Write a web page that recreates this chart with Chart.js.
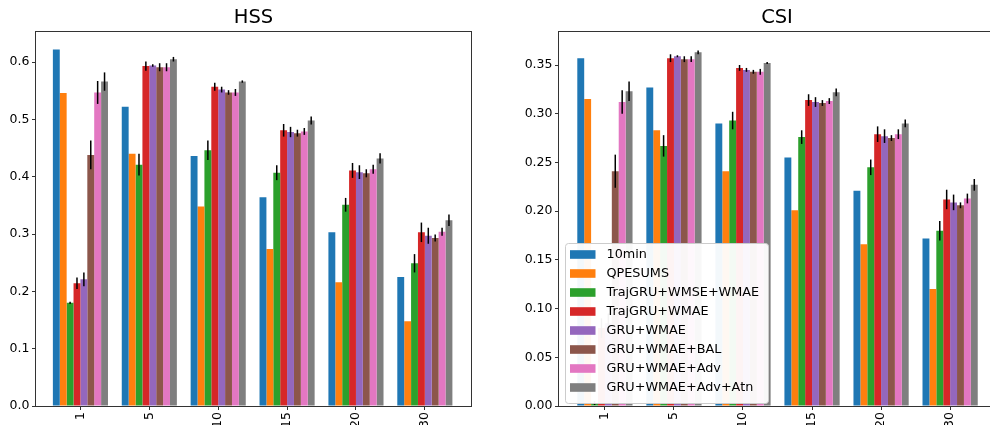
<!DOCTYPE html>
<html><head><meta charset="utf-8">
<script src="https://cdn.jsdelivr.net/npm/chart.js@4.4.0/dist/chart.umd.min.js"></script>
<style>
html,body{margin:0;padding:0;background:#fff;overflow:hidden;width:990px;height:425px;position:relative}
#wrapL{position:absolute;left:0;top:0;width:507px;height:425px}
#wrapR{position:absolute;left:480px;top:0;width:594px;height:425px}
canvas{display:block}
</style></head><body>
<div id="wrapL"><canvas id="hss" width="507" height="425"></canvas></div>
<div id="wrapR"><canvas id="csi" width="594" height="425"></canvas></div>
<script>
// ---- data ----
const categories = ['1', '5', '10', '15', '20', '30'];
const seriesNames = ['10min', 'QPESUMS', 'TrajGRU+WMSE+WMAE', 'TrajGRU+WMAE', 'GRU+WMAE', 'GRU+WMAE+BAL', 'GRU+WMAE+Adv', 'GRU+WMAE+Adv+Atn'];
const seriesColors = ['#1f77b4', '#ff7f0e', '#2ca02c', '#d62728', '#9467bd', '#8c564b', '#e377c2', '#7f7f7f'];

const hssTicks = [0.0, 0.1, 0.2, 0.3, 0.4, 0.5, 0.6];
const csiTicks = [0.00, 0.05, 0.10, 0.15, 0.20, 0.25, 0.30, 0.35];

// HSS values
const hss10min    = [0.622, 0.522, 0.436, 0.364, 0.303, 0.225];
const hssQpesums  = [0.546, 0.440, 0.348, 0.274, 0.216, 0.148];
const hssTrajWmse = [0.180, 0.421, 0.446, 0.407, 0.351, 0.249];
const hssTrajWmae = [0.214, 0.593, 0.557, 0.481, 0.411, 0.303];
const hssGru      = [0.221, 0.594, 0.552, 0.478, 0.408, 0.297];
const hssGruBal   = [0.438, 0.591, 0.547, 0.476, 0.406, 0.293];
const hssGruAdv   = [0.547, 0.591, 0.547, 0.479, 0.413, 0.304];
const hssGruAtn   = [0.566, 0.605, 0.566, 0.498, 0.432, 0.324];
// HSS error (half-length of error bars)
const hssErrTrajWmse = [0.002, 0.019, 0.017, 0.013, 0.012, 0.016];
const hssErrTrajWmae = [0.010, 0.008, 0.007, 0.011, 0.013, 0.017];
const hssErrGru      = [0.012, 0.002, 0.005, 0.009, 0.012, 0.014];
const hssErrGruBal   = [0.025, 0.007, 0.004, 0.006, 0.007, 0.006];
const hssErrGruAdv   = [0.020, 0.007, 0.006, 0.006, 0.008, 0.007];
const hssErrGruAtn   = [0.016, 0.004, 0.002, 0.007, 0.009, 0.010];

// CSI values
const csi10min    = [0.357, 0.327, 0.290, 0.255, 0.221, 0.172];
const csiQpesums  = [0.315, 0.283, 0.241, 0.201, 0.166, 0.120];
const csiTrajWmse = [0.003, 0.267, 0.293, 0.276, 0.245, 0.180];
const csiTrajWmae = [0.080, 0.357, 0.347, 0.314, 0.279, 0.212];
const csiGru      = [0.085, 0.359, 0.345, 0.312, 0.277, 0.209];
const csiGruBal   = [0.241, 0.356, 0.343, 0.311, 0.275, 0.206];
const csiGruAdv   = [0.312, 0.356, 0.343, 0.313, 0.279, 0.213];
const csiGruAtn   = [0.323, 0.363, 0.352, 0.322, 0.290, 0.227];
// CSI error
const csiErrTrajWmse = [0.002, 0.011, 0.009, 0.007, 0.008, 0.010];
const csiErrTrajWmae = [0.010, 0.004, 0.003, 0.006, 0.008, 0.010];
const csiErrGru      = [0.010, 0.001, 0.002, 0.005, 0.007, 0.008];
const csiErrGruBal   = [0.017, 0.003, 0.002, 0.003, 0.003, 0.003];
const csiErrGruAdv   = [0.012, 0.003, 0.003, 0.003, 0.005, 0.005];
const csiErrGruAtn   = [0.010, 0.002, 0.001, 0.004, 0.004, 0.006];

const hssSeries = [hss10min, hssQpesums, hssTrajWmse, hssTrajWmae, hssGru, hssGruBal, hssGruAdv, hssGruAtn];
const hssErrors = [null, null, hssErrTrajWmse, hssErrTrajWmae, hssErrGru, hssErrGruBal, hssErrGruAdv, hssErrGruAtn];
const csiSeries = [csi10min, csiQpesums, csiTrajWmse, csiTrajWmae, csiGru, csiGruBal, csiGruAdv, csiGruAtn];
const csiErrors = [null, null, csiErrTrajWmse, csiErrTrajWmae, csiErrGru, csiErrGruBal, csiErrGruAdv, csiErrGruAtn];

const FONT = 'DejaVu Sans';

// error bars plugin
const errorBarPlugin = {
  id: 'errorBars',
  afterDatasetsDraw(chart, args, opts) {
    const ctx = chart.ctx;
    const y = chart.scales.y;
    ctx.save();
    ctx.strokeStyle = '#000';
    ctx.lineWidth = 1.5;
    chart.data.datasets.forEach((ds, di) => {
      const errs = opts.errors[di];
      if (!errs) return;
      const meta = chart.getDatasetMeta(di);
      meta.data.forEach((el, i) => {
        const v = ds.data[i].y, e = errs[i];
        ctx.beginPath();
        ctx.moveTo(el.x, y.getPixelForValue(v - e));
        ctx.lineTo(el.x, y.getPixelForValue(v + e));
        ctx.stroke();
      });
    });
    ctx.restore();
  }
};

// frame (spines) plugin
const framePlugin = {
  id: 'frame',
  afterDatasetsDraw(chart) {
    const a = chart.chartArea, ctx = chart.ctx;
    ctx.save();
    ctx.lineWidth = 1;
    ctx.strokeStyle = '#333';
    const l = Math.round(a.left) - 0.5, r = Math.round(a.right) + 0.5;
    const t = Math.round(a.top) - 0.5, b = Math.round(a.bottom) + 0.5;
    ctx.strokeRect(l, t, r - l, b - t);
    ctx.restore();
  }
};

// in-axes legend plugin
const boxLegendPlugin = {
  id: 'boxLegend',
  afterDraw(chart, args, opts) {
    if (!opts.show) return;
    const a = chart.chartArea, ctx = chart.ctx;
    const x0 = a.left + 6, w = 203, h = 160;
    const y0 = a.bottom - 3 - h;
    ctx.save();
    ctx.fillStyle = 'rgba(255,255,255,0.95)';
    ctx.strokeStyle = '#cccccc';
    ctx.lineWidth = 1;
    ctx.beginPath();
    ctx.roundRect(Math.round(x0) + 0.5, Math.round(y0) + 0.5, w, h, 3);
    ctx.fill();
    ctx.stroke();
    ctx.font = '12.8px "' + FONT + '"';
    ctx.textBaseline = 'middle';
    ctx.textAlign = 'left';
    chart.data.datasets.forEach((ds, i) => {
      const cy = y0 + 11.5 + i * 19;
      ctx.fillStyle = ds.backgroundColor;
      ctx.fillRect(x0 + 5, cy - 4.3, 25.5, 8.6);
      ctx.fillStyle = '#000';
      ctx.fillText(ds.label, x0 + 41.5, cy + 0.5);
    });
    ctx.restore();
  }
};

function makeChart(id, title, series, errors, yMax, ticks, decimals, axisWidth, xMin, xMax, showLegend) {
  const datasets = series.map((vals, i) => ({
    label: seriesNames[i],
    data: vals.map((v, j) => ({ x: j, y: v })),
    backgroundColor: seriesColors[i],
    borderWidth: 0,
    categoryPercentage: 0.8,
    barPercentage: 1.0
  }));
  return new Chart(document.getElementById(id), {
    type: 'bar',
    data: { datasets },
    plugins: [errorBarPlugin, framePlugin, boxLegendPlugin],
    options: {
      responsive: false,
      animation: false,
      events: [],
      layout: { padding: 0 },
      plugins: {
        legend: { display: false },
        tooltip: { enabled: false },
        title: {
          display: true, text: title, color: '#000',
          font: { family: FONT, size: 19.5, weight: 'normal', lineHeight: 1.2 },
          padding: { top: 6, bottom: 2.3 }
        },
        errorBars: { errors },
        boxLegend: { show: showLegend }
      },
      scales: {
        x: {
          type: 'linear', min: xMin, max: xMax, offset: false,
          grid: { display: true, drawOnChartArea: false, drawTicks: true, tickLength: 4, color: '#333', offset: false },
          border: { display: false },
          afterBuildTicks: (s) => { s.ticks = categories.map((c, i) => ({ value: i })); },
          afterFit: (s) => { s.height = 19; },
          ticks: {
            autoSkip: false, minRotation: 90, maxRotation: 90, padding: 2,
            color: '#000', font: { family: FONT, size: 12.5 },
            callback: (v) => categories[v]
          }
        },
        y: {
          min: 0, max: yMax,
          grid: { display: true, drawOnChartArea: false, drawTicks: true, tickLength: 4, color: '#333' },
          border: { display: false },
          afterBuildTicks: (s) => { s.ticks = ticks.map(v => ({ value: v })); },
          afterFit: (s) => { s.width = axisWidth; },
          ticks: {
            padding: 2.5, color: '#000', font: { family: FONT, size: 12.5 },
            callback: (v) => Number(v).toFixed(decimals)
          }
        },
        yRightSpacer: {
          position: 'right', display: true, min: 0, max: 1,
          grid: { display: false }, border: { display: false },
          ticks: { display: false },
          afterFit: (s) => { s.width = axisWidth; }
        }
      }
    }
  });
}

makeChart('hss', 'HSS', hssSeries, hssErrors, 0.653, hssTicks, 1, 36, -0.645, 5.67, false);
makeChart('csi', 'CSI', csiSeries, csiErrors, 0.3842, csiTicks, 2, 79, -0.665, 5.65, true);
</script>
</body></html>
